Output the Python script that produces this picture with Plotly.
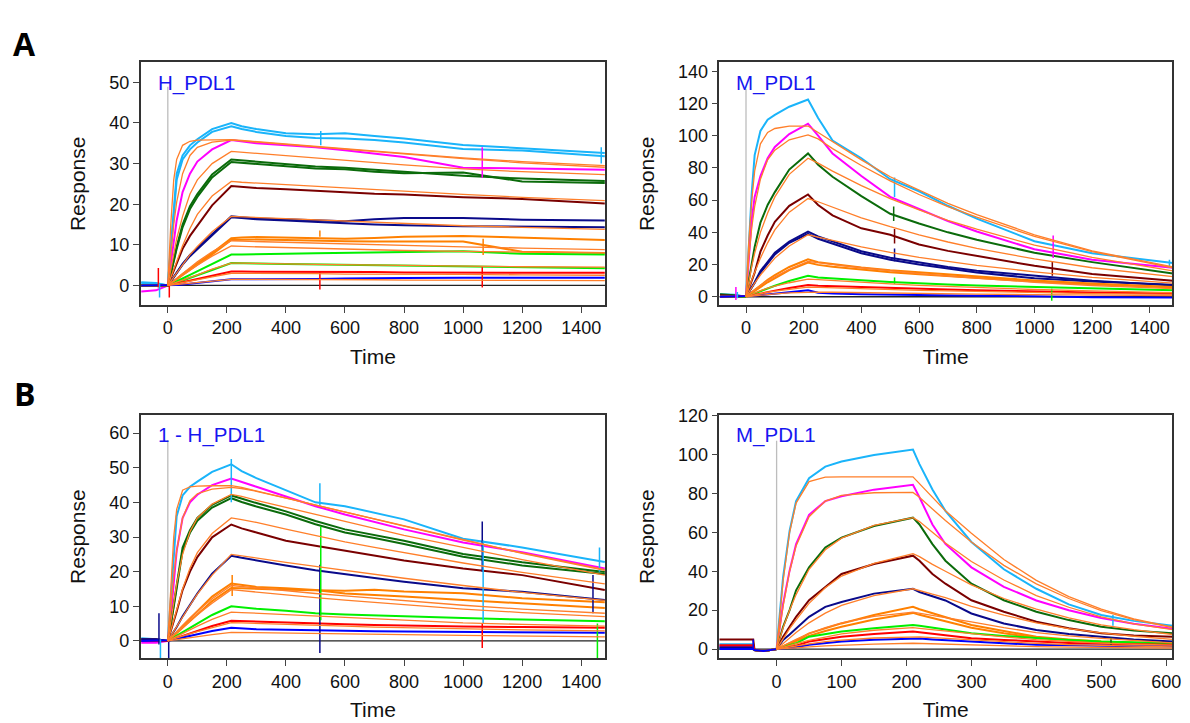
import plotly.graph_objects as go

# ---------------- colours ----------------
COLOR_MAP = {
    "cyan": "#1ab4fa", "magenta": "#ff00ff", "dkgreen": "#0b6b0b", "maroon": "#7a0000",
    "navy": "#0a0a8a", "orange": "#ff8000", "green": "#00f000", "red": "#ff0000",
    "blue": "#0000ff",
}
FIT_COLOR = "#ff7f2a"

# ---------------- Panel A, left : H_PDL1 ----------------
A1_T = [-90, -40, 0, 10, 20, 30, 50, 75, 100, 150, 215, 250, 300, 400, 500, 600, 700, 800, 1000, 1200, 1480]
A1_COLORS = ["cyan", "cyan", "magenta", "dkgreen", "dkgreen", "maroon", "navy", "navy",
             "orange", "orange", "green", "green", "red", "blue"]
A1_DATA = [
    [0.8, 0.6, 0, 10, 20, 27.5, 32, 34.5, 36, 38.5, 40, 39.2, 38.5, 37.5, 37.2, 37.5, 36.8, 36.2, 34.6, 33.8, 32.6],
    [0.6, 0.5, 0, 9, 18.5, 26, 31, 33.5, 35.2, 37.8, 39.2, 38.5, 37.8, 36.8, 36.3, 36.2, 35.8, 35.2, 33.6, 33.2, 31.8],
    [-1.5, -1.2, 0, 5, 11, 16, 23, 27.5, 30.5, 33.5, 35.8, 35.5, 35, 34.5, 34, 33.3, 32.5, 31.6, 29, 28.8, 28.5],
    [0, 0, 0, 3, 6.5, 9.5, 15, 19.5, 22.5, 27.3, 31, 30.8, 30.5, 29.8, 29.3, 29, 28.5, 28, 27, 26.3, 25.7],
    [0, 0, 0, 2.8, 6, 9, 14.3, 18.8, 21.8, 26.6, 30.4, 30.2, 29.8, 29.2, 28.8, 28.6, 28, 27.6, 27.8, 25.6, 25.2],
    [0, 0, 0, 1.8, 3.6, 5.3, 9, 12.2, 14.8, 19.7, 24.5, 24.3, 24, 23.7, 23.3, 23, 22.6, 22.4, 21.7, 21.3, 20.2],
    [0, 0, 0, 1, 2.1, 3.1, 5.3, 7.5, 9.2, 12.8, 17, 16.8, 16.5, 16.3, 16, 15.8, 16.3, 16.6, 16.6, 16.2, 16],
    [0, 0, 0, 0.9, 2, 3, 5.1, 7.2, 8.9, 12.5, 16.8, 16.6, 16.3, 16, 15.6, 15.3, 15, 14.8, 14.6, 14.5, 14.3],
    [0, 0, 0, 0.5, 1, 1.6, 2.8, 4.1, 5.3, 8, 11.6, 11.8, 11.9, 11.8, 11.6, 11.5, 11.7, 12, 12.2, 11.8, 11.2],
    [0, 0, 0, 0.5, 0.9, 1.5, 2.6, 3.9, 5, 7.6, 11.2, 11.3, 11.3, 11.2, 11, 10.9, 10.8, 10.8, 10.8, 8.3, 8],
    [0, 0, 0, 0.3, 0.7, 1, 1.7, 2.6, 3.5, 5.3, 7.6, 7.6, 7.7, 7.8, 7.9, 8, 8.1, 8.2, 8.4, 7.8, 7.6],
    [0, 0, 0, 0.2, 0.5, 0.7, 1.2, 1.9, 2.5, 3.8, 5.5, 5.5, 5.4, 5.3, 5.2, 5.1, 5, 4.9, 4.6, 4.4, 4.2],
    [0, 0, 0, 0.2, 0.3, 0.5, 0.8, 1.2, 1.6, 2.4, 3.4, 3.4, 3.4, 3.4, 3.3, 3.3, 3.3, 3.2, 3.2, 3.1, 3.1],
    [0, 0, 0, 0, 0, 0.1, 0.2, 0.4, 0.6, 1, 1.5, 1.5, 1.5, 1.6, 1.6, 1.7, 1.7, 1.8, 1.9, 1.9, 1.9],
]
A1_FIT_T = [0, 10, 20, 30, 50, 75, 100, 150, 215, 250, 300, 400, 500, 600, 700, 800, 1000, 1200, 1480]
A1_FITS = [
    [0, 15, 26, 31, 34.5, 35.5, 35.8, 35.9, 35.9, 35.7, 35.4, 34.8, 34.2, 33.6, 33, 32.5, 31.4, 30.5, 29.5],
    [0, 8, 15, 20.5, 27.5, 32, 34, 35.3, 35.8, 35.6, 35.3, 34.7, 34.1, 33.5, 32.9, 32.3, 31.2, 30.2, 29.1],
    [0, 4, 8, 11.5, 17, 22.5, 26, 30, 33, 32.8, 32.5, 31.9, 31.3, 30.7, 30.2, 29.7, 28.7, 28, 27.3],
    [0, 2, 4, 6, 9.8, 14, 17.5, 22, 25.6, 25.4, 25.2, 24.8, 24.3, 23.9, 23.5, 23.1, 22.4, 21.7, 20.9],
    [0, 1, 2, 3, 5.3, 7.6, 9.6, 13.2, 17, 16.9, 16.7, 16.4, 16.1, 15.8, 15.5, 15.2, 14.7, 14.3, 13.8],
    [0, 0.6, 1.2, 1.8, 3, 4.5, 5.8, 8.3, 11, 10.9, 10.8, 10.6, 10.4, 10.2, 10, 9.8, 9.5, 9.2, 8.8],
    [0, 0.5, 1, 1.5, 2.5, 3.8, 5, 7.2, 9.7, 9.6, 9.5, 9.3, 9.1, 8.9, 8.8, 8.6, 8.4, 8.2, 8],
    [0, 0.3, 0.6, 0.8, 1.3, 2, 2.6, 4, 5.5, 5.5, 5.4, 5.3, 5.2, 5.1, 5, 4.9, 4.8, 4.6, 4.5],
    [0, 0.15, 0.3, 0.45, 0.75, 1.1, 1.4, 2.1, 3, 3, 3, 2.9, 2.9, 2.8, 2.8, 2.7, 2.7, 2.6, 2.5],
    [0, 0.07, 0.15, 0.2, 0.35, 0.5, 0.7, 1, 1.5, 1.5, 1.5, 1.4, 1.4, 1.4, 1.4, 1.3, 1.3, 1.3, 1.2],
]
A1_SPIKES = [(-32, -0.5, 4.3, "red"), (-28, -3, 0.5, "cyan"), (5, -3, 1, "red"),
             (515, 12, 13.5, "orange"), (515, -1, 3.5, "red"), (518, 34.5, 38, "cyan"),
             (1065, 26.5, 34, "magenta"), (1068, 7.5, 11.5, "orange"), (1065, -0.5, 4.5, "red"),
             (1468, 30, 34, "cyan")]

# ---------------- Panel A, right : M_PDL1 ----------------
A2_T = A1_T
A2_COLORS = ["cyan", "magenta", "dkgreen", "maroon", "navy", "navy", "orange", "orange", "green", "red", "blue"]
A2_DATA = [
    [1.5, 1.2, 0, 36, 65, 88, 103, 110, 113, 118, 122.5, 111, 97, 86, 73, 65.5, 56.5, 48.5, 34.5, 27, 21],
    [0.5, 0.5, 0, 25, 48, 62, 75, 86, 93, 101, 107.5, 100, 89, 75, 62, 54.5, 47, 40.5, 29.5, 23, 18],
    [1.5, 1, 0, 11, 22, 31, 46, 57, 65, 79, 89, 82, 74.5, 62.5, 51.5, 45.5, 40, 35.4, 27.3, 21.5, 14.5],
    [1, 0.5, 0, 5, 10, 15, 28, 38, 46.5, 56.5, 63.5, 57, 50.5, 42.5, 38.5, 32.5, 28.5, 25.3, 19.2, 14.2, 10],
    [0.5, 0.5, 0, 3, 6, 9, 16, 22, 27.3, 34.3, 40.4, 37.5, 34.3, 28.3, 24.2, 21.2, 18.5, 16.2, 13, 10, 7],
    [0.5, 0.5, 0, 2.8, 5.6, 8.5, 15, 21, 26.3, 33.5, 39, 36, 33, 27, 23, 20, 17.5, 15, 11.5, 9.5, 7.5],
    [0, 0, 0, 1.5, 3, 4.5, 7, 10.5, 13.5, 18.5, 23.2, 21.5, 20.3, 18.2, 16.5, 15.2, 13.8, 12.3, 10.1, 8.2, 6],
    [0, 0, 0, 1.2, 2.5, 3.8, 6, 9, 11.5, 16.5, 21.2, 19.8, 18.7, 16.8, 15.2, 14, 12.8, 11.5, 9.5, 7.8, 5.8],
    [0, 0, 0, 0.7, 1.4, 2.1, 3.5, 5.2, 6.8, 9.8, 13, 12, 11.3, 10.2, 9.2, 8.3, 7.6, 7, 6, 5, 4],
    [0, 0, 0, 0.4, 0.8, 1.2, 2, 3, 3.8, 5.5, 7.3, 6.8, 6.5, 6, 5.5, 5, 4.5, 4, 3.2, 2.6, 2],
    [0, 0, 0, 0.2, 0.4, 0.6, 1, 1.5, 2, 3, 4, 2.5, 2, 1.5, 1.2, 1, 0.8, 0.6, 0.3, -0.3, -0.5],
]
A2_FIT_T = A1_FIT_T
A2_FITS = [
    [0, 35, 60, 78, 95, 102, 104.5, 106, 106, 102, 96, 85, 74.5, 66, 58, 51, 38.5, 28.5, 18.5],
    [0, 25, 43, 56, 73, 85, 91, 97.5, 100.5, 98, 92, 81.5, 72, 63.5, 56, 49.5, 37.5, 28, 18],
    [0, 10, 19, 27, 40, 52, 62, 76, 86, 83, 78, 69, 61, 54, 47.5, 42, 32, 24.5, 16],
    [0, 5.5, 10.5, 15, 24, 33.5, 41.5, 52.5, 61, 59, 55.5, 49, 43.5, 38.5, 34, 30, 23.5, 18, 12.5],
    [0, 3, 5.8, 8.5, 13.5, 19, 24, 31.5, 38.5, 37, 35, 31, 27.5, 24.5, 22, 19.5, 15.5, 12, 8.5],
    [0, 1.5, 3, 4.5, 7, 10, 12.5, 17, 22, 21, 20, 18, 16, 14.3, 12.8, 11.5, 9, 7, 5],
    [0, 0.8, 1.6, 2.4, 3.8, 5.3, 6.6, 8.7, 11, 10.6, 10, 9, 8, 7.1, 6.4, 5.7, 4.5, 3.6, 2.6],
    [0, 0.4, 0.8, 1.2, 2, 2.8, 3.5, 4.7, 6, 5.8, 5.5, 5, 4.5, 4, 3.6, 3.2, 2.6, 2, 1.5],
    [0, 0.2, 0.4, 0.6, 1, 1.4, 1.8, 2.4, 3, 2.9, 2.8, 2.5, 2.2, 2, 1.8, 1.6, 1.3, 1, 0.7],
]
A2_SPIKES = [(-35, -2, 6, "magenta"), (-30, -1, 3, "cyan"), (515, 62, 74, "cyan"),
             (512, 47, 56, "dkgreen"), (515, 33, 42, "maroon"), (515, 22, 30, "navy"),
             (515, 8, 12, "green"), (1065, 24, 38, "magenta"), (1062, 13, 22, "maroon"),
             (1060, -2.5, 5, "green"), (1468, 18, 23, "cyan")]

# ---------------- Panel B, left : 1 - H_PDL1 ----------------
B1_T = A1_T
B1_COLORS = ["cyan", "magenta", "dkgreen", "dkgreen", "maroon", "navy", "orange", "orange",
             "green", "red", "blue"]
B1_DATA = [
    [0.8, 0.5, 0, 12, 24, 36, 42, 44.5, 46, 48.8, 51, 49, 47, 43.6, 40, 38.9, 37, 35.1, 29.5, 27, 22.8],
    [-0.5, -0.5, 0, 7, 16.6, 26, 35.5, 40, 42.2, 45, 46.9, 46, 44.5, 41.7, 38.9, 36.5, 34.3, 32.2, 28.4, 25.6, 20.9],
    [0, 0, 0, 5, 10, 16, 27, 32, 35.5, 39.3, 42, 41, 39.8, 37.4, 34.6, 32.2, 30.5, 28.9, 25.1, 22.7, 19.9],
    [0, 0, 0, 4.6, 9.4, 15.2, 26, 31.2, 34.7, 38.5, 41.2, 40.1, 38.8, 36.5, 33.7, 31.3, 29.7, 28, 24.3, 21.8, 19.3],
    [0.5, 0.5, 0, 2.8, 5.5, 8.5, 14.7, 20, 24.2, 29.9, 33.6, 32.5, 31.3, 28.9, 27.5, 26.1, 24.6, 23.2, 20.9, 19, 14.7],
    [0.5, 0.5, 0, 1.3, 2.6, 4, 7.1, 10.5, 13.7, 19.4, 24.6, 24, 23.2, 21.8, 20.4, 19.4, 18.2, 17.1, 15.2, 14.2, 11.8],
    [0, 0, 0, 0.8, 1.6, 2.5, 4.3, 6.5, 8.5, 12.8, 16.6, 16.2, 15.6, 15.2, 14.7, 13.7, 13.3, 12.8, 11.8, 10.9, 9.5],
    [0, 0, 0, 0.7, 1.4, 2.2, 3.8, 5.8, 7.6, 11.5, 15.3, 15.2, 15, 14.8, 14.6, 14.5, 14.8, 14.3, 13.8, 12.3, 11.2],
    [0, 0, 0, 0.5, 1, 1.5, 2.5, 3.8, 5, 7.5, 10, 9.7, 9.3, 8.7, 8, 7.6, 7.3, 7, 6.6, 6.2, 5.7],
    [0, 0, 0, 0.3, 0.6, 0.9, 1.5, 2.2, 2.9, 4.3, 5.8, 5.7, 5.5, 5.3, 5, 4.8, 4.6, 4.4, 4.2, 4, 3.8],
    [0, 0, 0, 0.2, 0.4, 0.6, 1, 1.5, 2, 2.9, 3.8, 3.6, 3.4, 3.2, 3, 2.9, 2.8, 2.7, 2.6, 2.5, 2.4],
]
B1_FIT_T = A1_FIT_T
B1_FITS = [
    [0, 17, 30, 38, 43.5, 44.5, 44.7, 44.8, 44.8, 44.3, 43.3, 41.2, 39.2, 37.2, 35.1, 33.1, 29.1, 25.4, 20.6],
    [0, 10, 19, 26, 35.5, 40.5, 42.5, 43.8, 44.3, 44, 43.2, 41.2, 39.2, 37.2, 35.1, 33.1, 29.1, 25.3, 20.4],
    [0, 6, 11.5, 16.5, 25, 31.5, 35.5, 39.5, 42.3, 41.7, 40.6, 38.5, 36.5, 34.5, 32.5, 30.5, 27, 23.5, 19],
    [0, 3, 6, 9, 15, 21, 25.5, 31, 35.5, 35, 34.2, 32.3, 30.4, 28.6, 27, 25.5, 22.5, 19.8, 16.5],
    [0, 1.4, 2.8, 4.2, 7, 10.3, 13.5, 19, 25, 24.6, 24, 22.7, 21.5, 20.3, 19.2, 18.1, 16, 14, 11.7],
    [0, 0.9, 1.8, 2.7, 4.5, 6.6, 8.6, 12.2, 16, 15.7, 15.3, 14.5, 13.7, 13, 12.3, 11.6, 10.3, 9.2, 8],
    [0, 0.8, 1.6, 2.4, 4, 5.8, 7.6, 10.9, 14.8, 14.5, 14.1, 13.3, 12.5, 11.8, 11.1, 10.4, 9.2, 8.2, 7],
    [0, 0.45, 0.9, 1.35, 2.2, 3.3, 4.3, 6.2, 8.3, 8.2, 8, 7.5, 7, 6.6, 6.2, 5.8, 5.2, 4.8, 4.3],
    [0, 0.3, 0.6, 0.85, 1.4, 2.1, 2.7, 3.9, 5.3, 5.2, 5.1, 4.8, 4.5, 4.3, 4, 3.8, 3.5, 3.2, 2.9],
    [0, 0.13, 0.26, 0.4, 0.65, 0.95, 1.25, 1.8, 2.5, 2.45, 2.4, 2.25, 2.1, 2, 1.9, 1.8, 1.6, 1.4, 1.2],
]
B1_SPIKES = [(-30, -1, 8, "navy"), (-25, -5, 0.5, "cyan"), (3, -5, 1, "navy"), (215, 40, 52.5, "cyan"),
             (218, 13, 19, "orange"), (515, 39, 45.5, "cyan"), (515, -3.5, 22, "navy"),
             (518, 6, 33, "green"), (1065, 20, 34.5, "navy"), (1065, -2, 5, "red"),
             (1068, 5, 29, "cyan"), (1455, -5.5, 5, "green"), (1462, 20, 27, "cyan"),
             (1440, 8, 19, "navy")]

# ---------------- Panel B, right : M_PDL1 ----------------
B2_T = [-90, -36, -34, -20, 0, 10, 20, 30, 50, 75, 100, 150, 210, 220, 240, 260, 300, 350, 400, 450, 500, 550, 610]
B2_COLORS = ["cyan", "magenta", "dkgreen", "maroon", "navy", "orange", "orange", "green", "red", "blue"]
B2_DATA = [
    [2.5, 2.5, -0.5, -1, 0, 37, 60.7, 76, 87.8, 93.7, 96.3, 99.7, 102.5, 95, 82, 71, 55, 41, 31, 23, 17.5, 14.5, 12],
    [1.5, 1.5, -0.5, -1, 0, 23.4, 40.3, 53.9, 69, 76, 78.5, 81.9, 84.4, 78, 64, 54, 42, 32, 25, 20, 16, 13, 10.5],
    [0.5, 0.5, -0.5, -1, 0, 11.5, 20, 30.2, 42, 52.2, 57.3, 63.2, 67.5, 64, 53.9, 45.4, 33.6, 25.1, 19.2, 14.9, 11.5, 9.5, 8.1],
    [5, 5, -0.5, -1, 0, 6.4, 11.5, 16.6, 25.1, 31.9, 38.6, 43.7, 48, 45.4, 38.6, 33.6, 25.1, 19.2, 14.1, 10.7, 8.1, 7, 6.4],
    [1, 1, -0.5, -1, 0, 4.7, 7.5, 10.7, 16.6, 21.7, 24.2, 28.5, 31, 29.3, 27, 25, 18.3, 13.2, 9.8, 7.8, 6.4, 5, 3.9],
    [0, 0, -0.5, -1, 0, 1.5, 3, 4.5, 8.1, 10.8, 13.2, 17.5, 21.7, 20.5, 18.5, 16.6, 12.4, 9.3, 6.4, 5, 3.9, 3.3, 3],
    [0, 0, -0.5, -1, 0, 1.3, 2.6, 3.9, 6.8, 9.3, 11.5, 15.2, 18.6, 17.6, 16, 14.5, 11, 8.2, 5.8, 4.5, 3.6, 3.1, 2.8],
    [0, 0, -0.5, -1, 0, 1, 2, 3, 6.4, 7.8, 9, 10.7, 12.4, 12, 11, 10, 8.1, 6.8, 5.6, 4.7, 3.9, 3.4, 3],
    [2, 2, -0.5, -1, 0, 0.6, 1.2, 1.8, 3.9, 5.2, 6.4, 7.8, 9, 8.7, 8, 7.3, 5.6, 4.7, 3.9, 3.2, 2.7, 2.4, 2.2],
    [0, 0, -0.5, -1, 0, 0.3, 0.6, 1, 2.2, 3, 3.9, 4.8, 5.6, 5.4, 5, 4.6, 3.9, 3, 2.2, 1.9, 1.7, 1.5, 1.4],
]
B2_FIT_T = [0, 10, 20, 30, 50, 75, 100, 150, 210, 220, 240, 260, 300, 350, 400, 450, 500, 550, 610]
B2_FITS = [
    [0, 35, 60, 75, 86, 88.3, 88.5, 88.5, 88.5, 85, 78, 71, 59.5, 46, 35.3, 27, 20.5, 15.5, 11.3],
    [0, 22, 40, 53, 68, 76, 79, 80.3, 80.5, 78, 72, 66, 55, 43, 33.5, 26, 19.8, 15.2, 11],
    [0, 11, 20, 28, 41, 51, 57, 63.5, 67.5, 65.5, 60, 54.5, 45, 35.5, 27.5, 21.5, 16.5, 13, 10],
    [0, 5.5, 10.5, 15, 23.5, 31.5, 37.5, 44, 49, 47.5, 43.5, 40, 33, 26, 20.5, 16, 12.5, 10, 7.5],
    [0, 3, 5.8, 8.5, 13.5, 18.5, 22.5, 27.5, 31, 30, 28.2, 26.5, 22, 17.5, 13.5, 10.5, 8.3, 6.6, 5],
    [0, 1.8, 3.5, 5, 8, 11, 13.5, 16.8, 19, 18.5, 17.3, 16.2, 14, 11, 8.5, 6.8, 5.5, 4.3, 3.2],
    [0, 1, 2, 2.8, 4.5, 6.3, 7.8, 9.7, 11, 10.7, 10, 9.3, 8, 6.3, 4.9, 3.9, 3.1, 2.5, 2],
    [0, 0.6, 1.2, 1.7, 2.7, 3.8, 4.6, 5.7, 6.5, 6.3, 5.9, 5.5, 4.7, 3.7, 2.9, 2.3, 1.8, 1.5, 1.2],
    [0, 0.3, 0.5, 0.8, 1.2, 1.7, 2.1, 2.6, 3, 2.9, 2.7, 2.5, 2.2, 1.7, 1.3, 1, 0.8, 0.7, 0.5],
]
B2_SPIKES = [(-36, 0, 5, "blue"), (518, 12, 17.5, "cyan"), (515, 2, 6, "dkgreen")]

# ---------------- panel settings ----------------
PANELS = [
    dict(ax="", T=A1_T, colors=A1_COLORS, data=A1_DATA, fit_t=A1_FIT_T, fits=A1_FITS, spikes=A1_SPIKES,
         xd=[0.1191, 0.5126], yd=[0.5841, 0.9249], xr=[-92, 1482], yr=[-4.85, 54.9],
         xt=list(range(0, 1401, 200)), yt=list(range(0, 51, 10)), vtop=48.9, label="H_PDL1"),
    dict(ax="2", T=A2_T, colors=A2_COLORS, data=A2_DATA, fit_t=A2_FIT_T, fits=A2_FITS, spikes=A2_SPIKES,
         xd=[0.6092, 0.9924], yd=[0.5841, 0.9249], xr=[-92, 1477], yr=[-5.2, 145.5],
         xt=list(range(0, 1401, 200)), yt=list(range(0, 141, 20)), vtop=129, label="M_PDL1"),
    dict(ax="3", T=B1_T, colors=B1_COLORS, data=B1_DATA, fit_t=B1_FIT_T, fits=B1_FITS, spikes=B1_SPIKES,
         xd=[0.1191, 0.5126], yd=[0.0881, 0.4297], xr=[-92, 1482], yr=[-5.0, 65.2],
         xt=list(range(0, 1401, 200)), yt=list(range(0, 61, 10)), vtop=58, label="1 - H_PDL1"),
    dict(ax="4", T=B2_T, colors=B2_COLORS, data=B2_DATA, fit_t=B2_FIT_T, fits=B2_FITS, spikes=B2_SPIKES,
         xd=[0.6092, 0.9924], yd=[0.0881, 0.4297], xr=[-88, 609], yr=[-4.7, 120.2],
         xt=list(range(0, 601, 100)), yt=list(range(0, 121, 20)), vtop=107, label="M_PDL1"),
]

FONT = "Arial, Liberation Sans, sans-serif"
fig = go.Figure()
shapes = []
annotations = []
layout_axes = {}

for p in PANELS:
    xa, ya = "x" + p["ax"], "y" + p["ax"]
    # experimental curves
    for cname, ys in zip(p["colors"], p["data"]):
        fig.add_trace(go.Scatter(x=p["T"], y=ys, mode="lines", xaxis=xa, yaxis=ya,
                                 line=dict(color=COLOR_MAP[cname], width=2.0), hoverinfo="skip",
                                 showlegend=False))
    # injection spikes
    for t, lo, hi, cname in p["spikes"]:
        fig.add_trace(go.Scatter(x=[t, t], y=[lo, hi], mode="lines", xaxis=xa, yaxis=ya,
                                 line=dict(color=COLOR_MAP[cname], width=1.5), hoverinfo="skip",
                                 showlegend=False))
    # fitted curves
    for ys in p["fits"]:
        fig.add_trace(go.Scatter(x=p["fit_t"], y=ys, mode="lines", xaxis=xa, yaxis=ya,
                                 line=dict(color=FIT_COLOR, width=1.3), hoverinfo="skip",
                                 showlegend=False))
    # zero line + injection marker
    shapes.append(dict(type="line", xref=xa + " domain", yref=ya, x0=0, x1=1, y0=0, y1=0,
                       line=dict(color="#222222", width=1.3), layer="below"))
    shapes.append(dict(type="line", xref=xa, yref=ya, x0=0, x1=0, y0=0, y1=p["vtop"],
                       line=dict(color="#bdbdbd", width=1.3), layer="below"))
    annotations.append(dict(text=p["label"], xref=xa + " domain", yref=ya + " domain",
                            x=0.032, y=0.975, xanchor="left", yanchor="top", showarrow=False,
                            font=dict(family=FONT, size=20.5, color="#1616f0")))
    layout_axes["xaxis" + p["ax"]] = dict(
        domain=p["xd"], range=p["xr"], anchor=ya, tickvals=p["xt"],
        ticks="outside", ticklen=6, tickcolor="#444", showline=True,
        linecolor="#333", linewidth=1.5, mirror=True, showgrid=False,
        zeroline=False, ticklabeloverflow="allow",
        tickfont=dict(family=FONT, size=18, color="#111"),
        title=dict(text="Time", standoff=12, font=dict(family=FONT, size=21, color="#111")))
    layout_axes["yaxis" + p["ax"]] = dict(
        domain=p["yd"], range=p["yr"], anchor=xa, tickvals=p["yt"],
        ticks="outside", ticklen=6, tickcolor="#444", showline=True,
        linecolor="#333", linewidth=1.5, mirror=True, showgrid=False,
        zeroline=False, ticklabeloverflow="allow",
        tickfont=dict(family=FONT, size=18, color="#111"),
        title=dict(text="Response", standoff=18, font=dict(family=FONT, size=21, color="#111")))

annotations.append(dict(text="<b>A</b>", xref="paper", yref="paper", x=25 / 1190, y=1 - 35 / 723,
                        xanchor="center", yanchor="middle", showarrow=False,
                        font=dict(family="Open Sans, Arial, sans-serif", size=32, color="#000")))
annotations.append(dict(text="<b>B</b>", xref="paper", yref="paper", x=25 / 1190, y=1 - 390 / 723,
                        xanchor="center", yanchor="middle", showarrow=False,
                        font=dict(family="Open Sans, Arial, sans-serif", size=32, color="#000")))

fig.update_layout(width=1190, height=723, margin=dict(l=0, r=0, t=0, b=0),
                  paper_bgcolor="white", plot_bgcolor="white", showlegend=False,
                  shapes=shapes, annotations=annotations, **layout_axes)

fig.write_html("out.html", config={"displayModeBar": False},
               post_script="document.body.style.margin='0';document.body.style.padding='0';"
                           "document.documentElement.style.margin='0';")
